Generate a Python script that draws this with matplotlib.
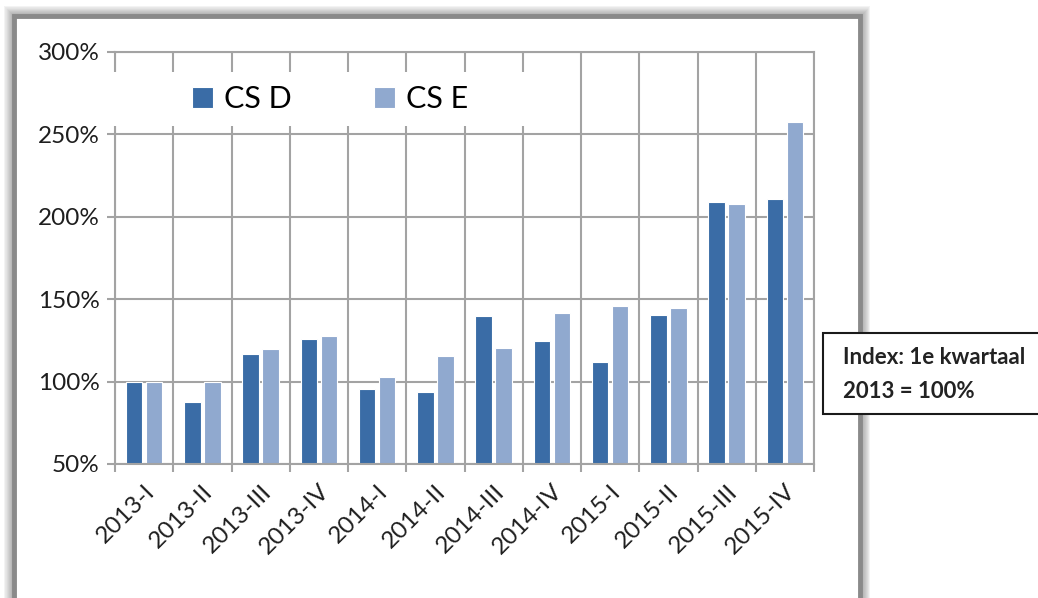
import numpy as np
import matplotlib.pyplot as plt
from matplotlib.patches import Rectangle
from matplotlib.ticker import FixedLocator

plt.rcParams['font.family'] = ['Lato', 'DejaVu Sans']

quarters = ['2013-I', '2013-II', '2013-III', '2013-IV',
            '2014-I', '2014-II', '2014-III', '2014-IV',
            '2015-I', '2015-II', '2015-III', '2015-IV']
cs_d = [100, 87.6, 116.7, 125.7, 95.7, 93.9, 139.6, 124.9, 111.7, 140.6, 208.9, 210.7]
cs_e = [100, 100, 119.8, 127.7, 102.6, 115.8, 120.6, 141.6, 145.7, 144.5, 207.9, 257.6]

col_d = '#3A6CA6'
col_e = '#90A9CF'
grid_col = '#A3A3A3'
W, H = 1038, 598

fig = plt.figure(figsize=[W / 100, H / 100], dpi=100)
fig.patch.set_facecolor('white')

# outer frame with a soft shadow
fx0, fy0, fx1, fy1 = 14, 16, 860, 640
for i in range(8, 0, -1):
    fig.patches.append(Rectangle((fx0 / W, 1 - fy1 / H), (fx1 - fx0) / W, (fy1 - fy0) / H,
                                 transform=fig.transFigure, fill=False,
                                 edgecolor='#707070', linewidth=1.5 + i * 1.6,
                                 alpha=0.09, zorder=0))
fig.patches.append(Rectangle((fx0 / W, 1 - fy1 / H), (fx1 - fx0) / W, (fy1 - fy0) / H,
                             transform=fig.transFigure, facecolor='white',
                             edgecolor='#8A8A8A', linewidth=3.5, zorder=1))

ax = fig.add_axes([115 / W, 1 - 464 / H, (814 - 115) / W, (464 - 52) / H])
ax.set_facecolor('none')
ax.set_zorder(2)

x = np.arange(len(quarters))
ax.bar(x - 0.172, np.array(cs_d) - 50, bottom=50, width=0.28, color=col_d,
       edgecolor='white', linewidth=0.8, label='CS D', zorder=2)
ax.bar(x + 0.172, np.array(cs_e) - 50, bottom=50, width=0.28, color=col_e,
       edgecolor='white', linewidth=0.8, label='CS E', zorder=2)

ax.set_xlim(-0.5, len(quarters) - 0.5)
ax.set_ylim(50, 300)
ax.set_yticks(np.arange(50, 301, 50))
ax.set_yticklabels([f'{v}%' for v in range(50, 301, 50)], fontsize=17.5, color='#1E1E1E')
ax.set_xticks(x)
ax.set_xticklabels(quarters, fontsize=17.5, color='#1E1E1E', rotation=45,
                   ha='right', va='top', rotation_mode='anchor')
ax.xaxis.set_minor_locator(FixedLocator(np.arange(-0.5, len(quarters), 1)))
ax.tick_params(axis='x', which='major', length=0, pad=12)
ax.tick_params(axis='x', which='minor', length=6, width=1.5, color=grid_col)
ax.tick_params(axis='y', length=6, width=1.5, color=grid_col, pad=5)
ax.set_axisbelow(True)
ax.grid(axis='y', color=grid_col, linewidth=1.5)
ax.grid(axis='x', which='minor', color=grid_col, linewidth=1.5)
for s in ax.spines.values():
    s.set_color(grid_col)
    s.set_linewidth(1.5)

# white legend band over the grid
ax.add_patch(Rectangle((-0.56, 255), 7.5, 33, facecolor='white', edgecolor='none',
                       zorder=3, clip_on=False))
ax.legend(loc='center', bbox_to_anchor=(330 / W, 1 - 99 / H), bbox_transform=fig.transFigure,
          ncol=2, frameon=False, fontsize=22, handlelength=0.68, handleheight=0.68,
          handletextpad=0.35, columnspacing=2.7)

# note box
fig.patches.append(Rectangle((823 / W, 1 - 414 / H), 240 / W, 81 / H,
                             transform=fig.transFigure, facecolor='white',
                             edgecolor='#1A1A1A', linewidth=1.5, zorder=5))
fig.text(843 / W, 1 - 358 / H, 'Index: 1e kwartaal', fontsize=16, fontweight='bold',
         color='#222222', va='center', ha='left', zorder=6)
fig.text(843 / W, 1 - 392 / H, '2013 = 100%', fontsize=16, fontweight='bold',
         color='#222222', va='center', ha='left', zorder=6)

plt.savefig('out.png', dpi=100)
